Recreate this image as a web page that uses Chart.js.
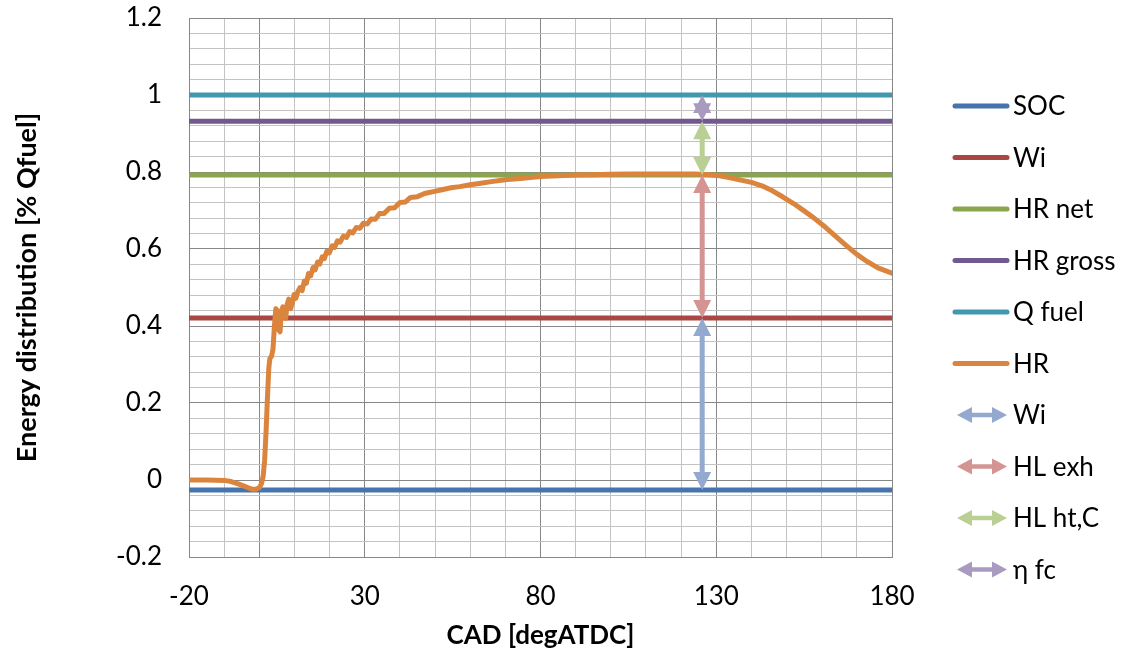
<!DOCTYPE html>
<html><head><meta charset="utf-8">
<script src="https://cdn.jsdelivr.net/npm/chart.js@4.4.1/dist/chart.umd.min.js"></script>
<style>html,body{margin:0;padding:0;background:#fff}</style>
</head><body>
<canvas id="c" width="1123" height="657" style="display:block;width:1123px;height:657px"></canvas>
<script>
// ---- data ----
const xTickLabels = [-20, 30, 80, 130, 180];
const yTickLabels = [-0.2, 0, 0.2, 0.4, 0.6, 0.8, 1, 1.2];
const levelX = [-20, 180];
const socY = [-0.026, -0.026];
const wiY = [0.421, 0.421];
const hrNetY = [0.792, 0.792];
const hrGrossY = [0.932, 0.932];
const qFuelY = [1.0, 1.0];
const hrCurve = [
  [-20,0.0],[-15,0.0],[-10,-0.001],[-8,-0.004],[-6,-0.010],[-4,-0.017],[-3,-0.021],[-2,-0.024],[-1,-0.024],
  [0,-0.020],[0.6,-0.010],[1.1,0.010],[1.5,0.050],[1.9,0.120],[2.3,0.210],[2.7,0.290],[3.0,0.315],[3.5,0.322],
  [3.9,0.340],[4.3,0.400],[4.7,0.445],[5.1,0.440],[5.5,0.390],[5.9,0.385],[6.3,0.440],[6.7,0.450],[7.1,0.425],
  [7.5,0.420],[7.9,0.455],[8.4,0.470],[8.9,0.445],[9.4,0.460],[9.9,0.482],[10.4,0.472],[11.0,0.490],[11.6,0.500],
  [12.2,0.492],[12.8,0.517],[13.4,0.511],[14.0,0.536],[14.6,0.530],[15.3,0.552],[15.9,0.546],[16.6,0.566],
  [17.2,0.561],[17.9,0.580],[18.5,0.575],[19.2,0.594],[19.9,0.590],[20.7,0.608],[21.4,0.604],[22.2,0.621],
  [23.0,0.618],[23.9,0.633],[24.8,0.630],[25.7,0.645],[26.6,0.642],[27.6,0.656],[28.6,0.654],[29.6,0.667],
  [30.7,0.665],[31.8,0.678],[33.0,0.677],[34.2,0.692],[35.5,0.692],[37.0,0.706],[38.5,0.707],[40.0,0.721],
  [41.5,0.722],[43.0,0.734],[45.0,0.736],[47.0,0.744],[49.5,0.749],[52,0.754],[54.5,0.759],[57,0.762],
  [60,0.767],[63,0.771],[66,0.775],[70,0.780],[75,0.784],[80,0.788],[85,0.790],[90,0.792],[95,0.793],
  [100,0.794],[105,0.795],[110,0.795],[115,0.795],[120,0.795],[124,0.795],[128,0.793],[131,0.790],[134,0.785],
  [137,0.779],[140,0.773],[143,0.764],[146,0.751],[149,0.735],[152,0.718],[155,0.699],[158,0.679],[161,0.657],
  [164,0.633],[167,0.609],[170,0.586],[173,0.567],[176,0.551],[180,0.537]
];
const arrowX = [126, 126];
const arrowWiY = [-0.026, 0.421];
const arrowHLexhY = [0.421, 0.792];
const arrowHLhtY = [0.792, 0.932];
const arrowEtaY = [0.932, 1.0];

// ---- helpers ----
const pts = (xs, ys) => xs.map((x, i) => ({x, y: ys[i]}));
const near = (v, arr) => arr.some(a => Math.abs(a - v) < 1e-6);
const MAJOR = '#878787', MINOR = '#c3c3c3';

function levelDs(label, ys, color, order) {
  return {label, data: pts(levelX, ys), borderColor: color, backgroundColor: color,
    borderWidth: 5, pointRadius: 0, order, legendType: 'line'};
}
function arrowDs(label, ys, color) {
  return {label, data: pts(arrowX, ys), borderColor: color, backgroundColor: color,
    showLine: false, pointRadius: 0, arrow: true, order: 0, legendType: 'arrow'};
}

function drawArrow(ctx, ax, ay, bx, by, color, shaftW, headL, headW) {
  const len = Math.hypot(bx - ax, by - ay);
  const ux = (bx - ax) / len, uy = (by - ay) / len;
  const nx = -uy, ny = ux;
  ctx.save();
  ctx.fillStyle = color; ctx.strokeStyle = color;
  if (len > 2 * headL) {
    ctx.lineWidth = shaftW; ctx.lineCap = 'butt';
    ctx.beginPath();
    ctx.moveTo(ax + ux * headL * 0.8, ay + uy * headL * 0.8);
    ctx.lineTo(bx - ux * headL * 0.8, by - uy * headL * 0.8);
    ctx.stroke();
  }
  const head = (tx, ty, dx, dy) => {
    ctx.beginPath();
    ctx.moveTo(tx, ty);
    ctx.lineTo(tx + dx * headL + nx * headW / 2, ty + dy * headL + ny * headW / 2);
    ctx.lineTo(tx + dx * headL - nx * headW / 2, ty + dy * headL - ny * headW / 2);
    ctx.closePath(); ctx.fill();
  };
  head(ax, ay, ux, uy);
  head(bx, by, -ux, -uy);
  ctx.restore();
}

const arrowPlugin = {
  id: 'arrows',
  afterDatasetsDraw(chart) {
    const ctx = chart.ctx;
    chart.data.datasets.forEach((ds, i) => {
      if (!ds.arrow) return;
      const m = chart.getDatasetMeta(i);
      const p0 = m.data[0], p1 = m.data[1];
      drawArrow(ctx, p0.x, p0.y, p1.x, p1.y, ds.borderColor, 5, 18, 18);
    });
  }
};

const legendPlugin = {
  id: 'sideLegend',
  afterDraw(chart) {
    const ctx = chart.ctx;
    const ca = chart.chartArea;
    const x0 = ca.right + 61, x1 = ca.right + 117, tx = ca.right + 121;
    const y0 = 106, dy = 51.5;
    ctx.save();
    ctx.font = '26px Lato';
    ctx.textBaseline = 'middle';
    ctx.textAlign = 'left';
    chart.data.datasets.forEach((ds, i) => {
      const y = y0 + i * dy;
      if (ds.legendType === 'arrow') {
        drawArrow(ctx, x0 + 4, y, x1 - 2, y, ds.borderColor, 4.5, 15, 16);
      } else {
        ctx.strokeStyle = ds.borderColor; ctx.lineWidth = 5; ctx.lineCap = 'round';
        ctx.beginPath(); ctx.moveTo(x0 + 2, y); ctx.lineTo(x1 - 2, y); ctx.stroke();
      }
      ctx.fillStyle = '#000';
      ctx.fillText(ds.label, tx, y + 1);
    });
    ctx.restore();
  }
};

new Chart(document.getElementById('c'), {
  type: 'line',
  data: {
    datasets: [
      levelDs('SOC', socY, '#4674AE', 6),
      levelDs('Wi', wiY, '#AA4643', 5),
      levelDs('HR net', hrNetY, '#89A54E', 4),
      levelDs('HR gross', hrGrossY, '#71588F', 3),
      levelDs('Q fuel', qFuelY, '#4198AF', 2),
      {label: 'HR', data: hrCurve.map(p => ({x: p[0], y: p[1]})), borderColor: '#DB843D', backgroundColor: '#DB843D',
        borderWidth: 5, pointRadius: 0, tension: 0, borderJoinStyle: 'round', borderCapStyle: 'round',
        order: 1, legendType: 'line'},
      arrowDs('Wi', arrowWiY, '#93A9CF'),
      arrowDs('HL exh', arrowHLexhY, '#D39492'),
      arrowDs('HL ht,C', arrowHLhtY, '#B9CF94'),
      arrowDs('η fc', arrowEtaY, '#A99BBF')
    ]
  },
  plugins: [arrowPlugin, legendPlugin],
  options: {
    responsive: false,
    animation: false,
    devicePixelRatio: 1,
    layout: {padding: {top: 18, right: 231, bottom: 0, left: 0}},
    plugins: {legend: {display: false}, tooltip: {enabled: false}},
    scales: {
      x: {
        type: 'linear', min: -20, max: 180,
        afterFit(s) { s.height = 100; },
        ticks: {stepSize: 10, autoSkip: false, maxRotation: 0, padding: 24, color: '#000',
          font: {family: 'Lato', size: 26},
          callback: v => near(v, xTickLabels) ? String(Math.round(v)) : ''},
        grid: {drawTicks: false, lineWidth: 1,
          color: c => (near(c.tick.value, xTickLabels) || Math.abs(c.tick.value) < 1e-6) ? MAJOR : MINOR},
        border: {color: MAJOR, width: 1},
        title: {display: true, text: 'CAD [degATDC]', color: '#000',
          font: {family: 'Lato', size: 26, weight: 'bold'}, padding: {top: 0, bottom: 6}}
      },
      y: {
        type: 'linear', min: -0.2, max: 1.2,
        afterFit(s) { s.width = 189; s.paddingTop = 15; s.paddingBottom = 15; },
        ticks: {stepSize: 0.04, autoSkip: false, padding: 27, color: '#000',
          font: {family: 'Lato', size: 26},
          callback: v => near(v, yTickLabels) ? String(Math.round(v * 10) / 10) : ''},
        grid: {drawTicks: false, lineWidth: 1,
          color: c => near(c.tick.value, yTickLabels) ? MAJOR : MINOR},
        border: {color: MAJOR, width: 1},
        title: {display: true, text: 'Energy distribution [% Qfuel]', color: '#000',
          font: {family: 'Lato', size: 27, weight: 'bold'}, padding: {top: 11, bottom: 0}}
      }
    }
  }
});
</script>
</body></html>
